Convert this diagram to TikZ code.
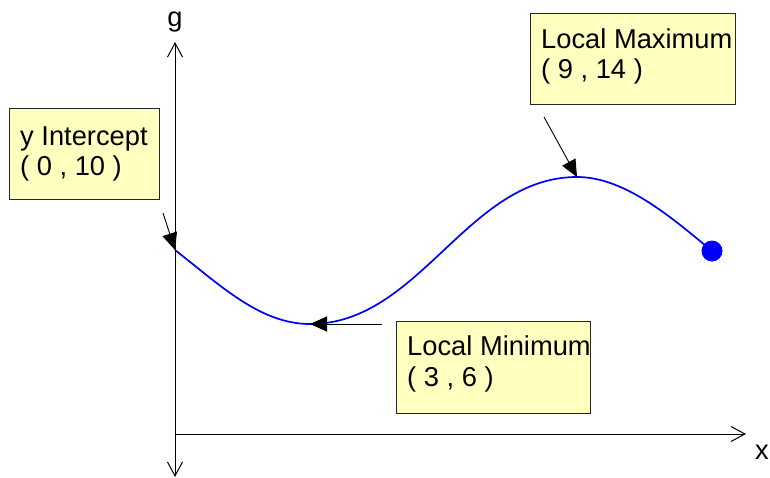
\documentclass[tikz,border=0pt]{standalone}
\usepackage{fontspec}
\setmainfont{Liberation Sans}
\usetikzlibrary{arrows.meta}
\definecolor{boxfill}{HTML}{FFFFC0}
\tikzset{
  axisline/.style={draw=black, line width=1pt},
  axistip/.style={-{Straight Barb[length=14pt,width=15pt,line width=1pt]}},
  callout/.style={draw=black, line width=0.9pt, -{Triangle[length=17pt,width=15pt]}},
  notebox/.style={draw=black!85, line width=1pt, fill=boxfill, inner sep=0pt, anchor=north west},
  lbl/.style={inner sep=0pt, anchor=base west, font=\fontsize{27.3}{31}\selectfont},
  axlbl/.style={inner sep=0pt, anchor=base, font=\fontsize{27.3}{31}\selectfont},
  curve/.style={draw=blue, line width=1.7pt},
}
\begin{document}
\begin{tikzpicture}[x=1pt,y=-1pt]
\useasboundingbox (0,0) rectangle (770,477);
% axes
\coordinate (ytop) at (175,42);
\coordinate (ybot) at (175,477);
\coordinate (orig) at (175,434);
\coordinate (xend) at (746,434);
\draw[axisline, {Straight Barb[length=14pt,width=15pt,line width=1pt]}-{Straight Barb[length=14pt,width=15pt,line width=1pt]}] (ybot) -- (ytop);
\draw[axisline, axistip] (orig) -- (xend);
\node[axlbl] (glbl) at (175,26) {g};
\node[axlbl] (xlbl) at (762,459) {x};
% curve
\coordinate (p0) at (175,250);
\coordinate (pmin) at (310,324);
\coordinate (pmax) at (577,177);
\coordinate (pend) at (712,251);
\draw[curve] (p0) .. controls (220,285) and (260,324) .. (pmin)
  .. controls (420,324) and (467,177) .. (pmax)
  .. controls (624,177) and (670,216) .. (pend);
\fill[blue] (pend) circle[radius=10.5pt];
% boxes
\node[notebox, minimum width=150pt, minimum height=91pt] (boxy) at (9,108) {};
\node[notebox, minimum width=205pt, minimum height=91pt] (boxmax) at (530,13) {};
\node[notebox, minimum width=194pt, minimum height=92pt] (boxmin) at (396,321) {};
\node[lbl] (ya) at (20,145) {y Intercept};
\node[lbl] (yb) at (20,175) {( 0 , 10 )};
\node[lbl] (maxa) at (541,48) {Local Maximum};
\node[lbl] (maxb) at (541,78) {( 9 , 14 )};
\node[lbl] (mina) at (407,355) {Local Minimum};
\node[lbl] (minb) at (407,386) {( 3 , 6 )};
% callout arrows
\coordinate (cy) at (163,213);
\coordinate (cmax) at (544,117);
\coordinate (cmin) at (382,324);
\draw[callout] (cy) -- (p0);
\draw[callout] (cmax) -- (pmax);
\draw[callout] (cmin) -- (pmin);
\end{tikzpicture}
\end{document}
